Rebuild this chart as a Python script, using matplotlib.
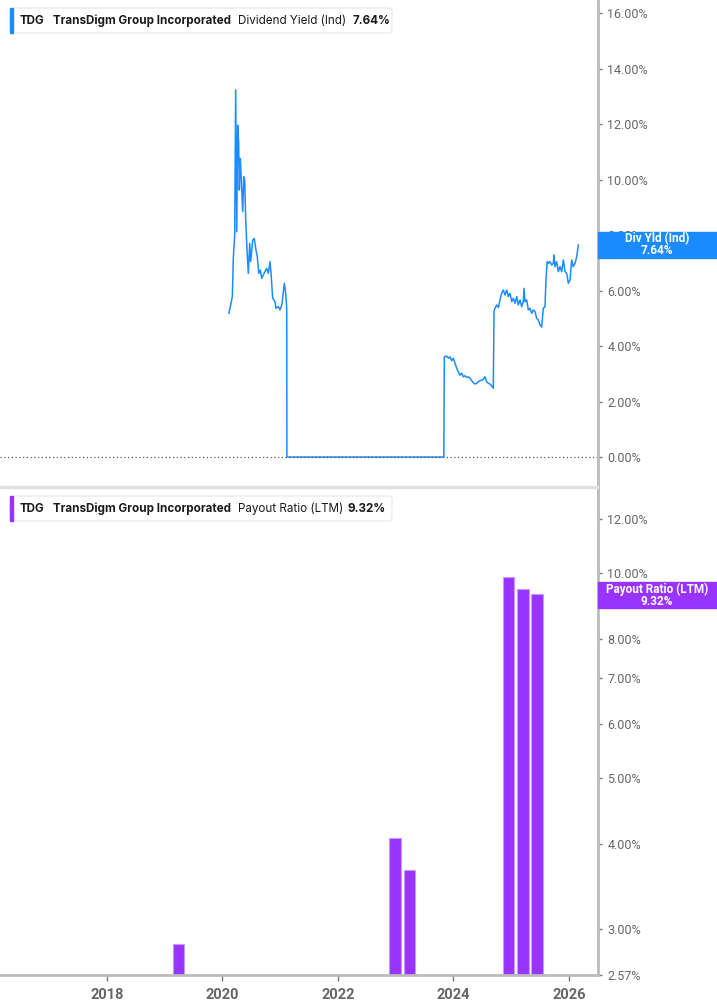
import numpy as np
import matplotlib.pyplot as plt
from matplotlib.patches import FancyBboxPatch, Rectangle
from matplotlib.ticker import FixedLocator, NullLocator

# Dividend yield (Ind), % - decimal years
yield_years = [2020.115, 2020.173, 2020.190, 2020.214, 2020.231, 2020.249, 2020.266, 2020.283, 2020.294, 2020.311,
               2020.335, 2020.353, 2020.370, 2020.387, 2020.405, 2020.427, 2020.450, 2020.474, 2020.491, 2020.526,
               2020.553, 2020.578, 2020.605, 2020.630, 2020.657, 2020.682, 2020.709, 2020.739, 2020.768, 2020.796,
               2020.825, 2020.843, 2020.872, 2020.912, 2020.929, 2020.969, 2020.998, 2021.033, 2021.073, 2021.097,
               2021.115, 2021.118, 2023.835,
               2023.844, 2023.885, 2023.913, 2023.942, 2023.971, 2023.999, 2024.029, 2024.058, 2024.086, 2024.115,
               2024.145, 2024.173, 2024.202, 2024.231, 2024.259, 2024.288, 2024.318, 2024.346, 2024.375, 2024.405,
               2024.432, 2024.462, 2024.491, 2024.519, 2024.548, 2024.577, 2024.605, 2024.635, 2024.664, 2024.692,
               2024.704, 2024.721, 2024.751, 2024.779, 2024.808, 2024.837, 2024.865, 2024.894, 2024.924, 2024.952,
               2024.981, 2025.011, 2025.039, 2025.068, 2025.097, 2025.125, 2025.154, 2025.184, 2025.212, 2025.224,
               2025.241, 2025.271, 2025.298, 2025.327, 2025.357, 2025.385, 2025.414, 2025.443, 2025.471, 2025.501,
               2025.530, 2025.558, 2025.587,
               2025.605, 2025.627, 2025.645, 2025.674, 2025.703, 2025.731, 2025.743, 2025.760, 2025.790, 2025.818,
               2025.847, 2025.876, 2025.904, 2025.934, 2025.963, 2025.991, 2026.020, 2026.050, 2026.078, 2026.107,
               2026.136, 2026.164]
yield_vals = [5.18, 5.78, 7.16, 8.00, 13.23, 8.12, 11.96, 11.30, 9.62, 10.76,
              9.62, 8.84, 10.10, 9.98, 8.54, 7.46, 6.62, 7.70, 7.04, 7.82,
              7.88, 7.52, 7.22, 6.62, 6.74, 6.44, 6.56, 6.68, 6.80, 6.62,
              7.04, 6.62, 5.72, 5.60, 5.36, 5.42, 5.30, 5.51, 6.26, 5.90,
              5.36, 0.0, 0.0,
              3.61, 3.64, 3.56, 3.61, 3.47, 3.56, 3.38, 3.20, 3.07, 2.95,
              3.02, 2.89, 2.93, 2.87, 2.89, 2.84, 2.75, 2.68, 2.63, 2.66,
              2.71, 2.75, 2.77, 2.80, 2.89, 2.71, 2.66, 2.63, 2.56, 2.48,
              5.24, 5.36, 5.48, 5.39, 5.66, 5.90, 6.02, 5.84, 6.02, 5.78,
              5.90, 5.60, 5.72, 5.54, 5.78, 5.48, 5.66, 5.42, 5.60, 6.08,
              5.60, 5.66, 5.30, 5.36, 5.18, 5.30, 5.24, 5.00, 4.94, 4.76,
              4.68, 5.36, 5.42,
              6.44, 7.04, 6.98, 7.04, 6.92, 6.98, 7.28, 6.86, 7.04, 6.68,
              6.86, 6.68, 7.10, 6.68, 6.62, 6.26, 6.38, 7.10, 6.86, 6.98,
              7.22, 7.64]

# Payout ratio (LTM), % - quarterly bars
payout_years = [2019.241, 2022.990, 2023.239, 2024.960, 2025.205, 2025.449]
payout_vals = [2.85, 4.08, 3.67, 9.87, 9.46, 9.32]

year_ticks = [2018, 2020, 2022, 2024, 2026]
yield_ticks = [0, 2, 4, 6, 8, 10, 12, 14, 16]
payout_ticks = [2.57, 3, 4, 5, 6, 7, 8, 10, 12]

BLUE = '#1a8cff'
PURPLE = '#9933ff'
GREY = '#666666'

W, H = 717, 1005
def fx(px):
    return px / W
def fy(py):
    return 1 - py / H

fig = plt.figure(figsize=(W / 100, H / 100), dpi=100)
plt.rcParams['font.family'] = ['Roboto', 'DejaVu Sans']

x0, x1 = 2016.15, 2016.15 + 597.5 / 57.75

# --- top panel: dividend yield
ax1 = fig.add_axes([0, fy(487), fx(597.5), 487 / H])
ax1.plot(yield_years, yield_vals, color=BLUE, lw=1.1)
ax1.axhline(0, color='#555555', lw=0.9, ls=(0, (1, 2)))
ax1.set_xlim(x0, x1)
ax1.set_ylim(-1.08, 16.47)
ax1.set_yticks(yield_ticks)
ax1.set_yticklabels([f'{v:.2f}%' for v in yield_ticks])
ax1.xaxis.set_major_locator(NullLocator())
for s in ['left', 'top', 'bottom']:
    ax1.spines[s].set_visible(False)
ax1.spines['right'].set_color('#bbbbbb')
ax1.spines['right'].set_linewidth(2)
ax1.tick_params(axis='y', left=False, labelleft=False, right=True, labelright=True,
                length=3, width=1, color='#777777', labelcolor=GREY, labelsize=9, pad=4)

# --- bottom panel: payout ratio
ax2 = fig.add_axes([0, fy(975), fx(597.5), (975 - 487) / H])
ax2.set_yscale('log')
ax2.bar(payout_years, payout_vals, width=0.197, color=PURPLE,
        edgecolor='#c59bff', linewidth=0.8)
ax2.set_xlim(x0, x1)
ax2.set_ylim(2.57, 13.37)
ax2.yaxis.set_major_locator(FixedLocator(payout_ticks))
ax2.yaxis.set_minor_locator(NullLocator())
ax2.set_yticklabels([f'{v:.2f}%' for v in payout_ticks])
ax2.set_xticks(year_ticks)
ax2.set_xticklabels([str(y) for y in year_ticks], fontweight='bold')
ax2.spines['left'].set_visible(False)
ax2.spines['top'].set_color('#e0e0e0')
ax2.spines['top'].set_linewidth(2.5)
ax2.spines['right'].set_color('#bbbbbb')
ax2.spines['right'].set_linewidth(2)
ax2.spines['bottom'].set_color('#bbbbbb')
ax2.spines['bottom'].set_linewidth(2)
ax2.tick_params(axis='y', left=False, labelleft=False, right=True, labelright=True,
                length=3, width=1, color='#777777', labelcolor=GREY, labelsize=9, pad=4)
ax2.tick_params(axis='x', length=4, width=1, color='#777777', labelcolor=GREY,
                labelsize=10.5, pad=5)

# --- legends
def legend(top, color, parts):
    box = FancyBboxPatch((fx(10), fy(top + 25)), fx(382), 25 / H,
                         boxstyle='round,pad=0,rounding_size=0.004',
                         transform=fig.transFigure, fc='white', ec='#e6e6e6', lw=0.8)
    fig.patches.append(box)
    fig.patches.append(Rectangle((fx(10), fy(top + 25)), fx(3), 25 / H,
                                 transform=fig.transFigure, color=color))
    for xp, txt, wt in parts:
        fig.text(fx(xp), fy(top + 12.5), txt, fontsize=8.4, fontweight=wt, color='#1a1a1a',
                 va='center', ha='left', family=['Inter', 'DejaVu Sans'])

legend(8, BLUE, [(20, 'TDG', 'bold'), (53, 'TransDigm Group Incorporated', 'bold'),
                 (238, 'Dividend Yield (Ind)', 'normal'), (353, '7.64%', 'bold')])
legend(496, PURPLE, [(20, 'TDG', 'bold'), (53, 'TransDigm Group Incorporated', 'bold'),
                     (238, 'Payout Ratio (LTM)', 'normal'), (348, '9.32%', 'bold')])

# --- value labels on the right axis
def value_tag(yc, color, line1, line2):
    fig.patches.append(Rectangle((fx(598), fy(yc + 13)), fx(119), 26 / H,
                                 transform=fig.transFigure, color=color, zorder=5))
    fig.text(fx(657), fy(yc - 6), line1, fontsize=8.5, fontweight='bold', color='white',
             ha='center', va='center', zorder=6)
    fig.text(fx(657), fy(yc + 6), line2, fontsize=8.5, fontweight='bold', color='white',
             ha='center', va='center', zorder=6)

value_tag(245, BLUE, 'Div Yld (Ind)', '7.64%')
value_tag(595, PURPLE, 'Payout Ratio (LTM)', '9.32%')

fig.savefig('out.png', dpi=100)
